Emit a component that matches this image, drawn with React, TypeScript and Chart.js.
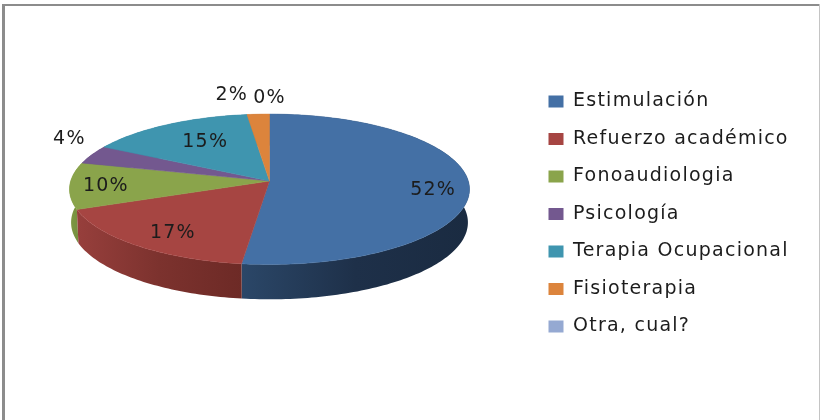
import React, { useEffect, useRef } from "react";
import { Chart, registerables } from "chart.js";

Chart.register(...registerables);

const categories = ["Estimulación", "Refuerzo académico", "Fonoaudiologia", "Psicología", "Terapia Ocupacional", "Fisioterapia", "Otra, cual?"];
const shares = [52, 17, 10, 4, 15, 2, 0];
const topColors = ["#4470a5", "#a64542", "#8aa44b", "#73588f", "#3f95af", "#dc843c", "#95a9d2"];
const sideLeft = ["#2b4768", "#973f3c", "#7f9945", "#6b5286", "#35809a", "#c0722f", "#7f90b5"];
const sideMid = ["#1e3049", "#7c322e", "#789140", "#5c4674", "#2e7088", "#ae662b", "#7283a4"];
const sideRight = ["#1a2b41", "#6d2a26", "#748c3e", "#55416c", "#2a6a80", "#a5612a", "#6c7c9c"];

// [radial factor, nudge x, nudge y]
const labelPlacement = [
  [0.82, 0, 5],
  [0.82, 11, 0],
  [0.82, 0, 1],
  [1.15, 3, -12],
  [0.82, 21, 8],
  [1.15, -25, -10],
  [1.15, 0, -7.5],
];

const FONT = "'DejaVu Sans', sans-serif";
const FONT_SIZE = 19;
const SPACING = "1.25px";
const TILT = 0.3737;
const PERSPECTIVE = 0.11;
const BASE_TILT = 0.382;
const BASE_SCALE = 0.992;
const DEPTH = 33;

function project(el: any, a: number, r: number, base: boolean) {
  const u = Math.cos(a) * r;
  const v = Math.sin(a) * r;
  const w = 1 - PERSPECTIVE * v;
  const R = el.outerRadius;
  return {
    x: el.x + (R * (base ? BASE_SCALE : 1) * u) / w,
    y: el.y + (base ? DEPTH : 0) + (R * (base ? BASE_TILT : TILT) * v) / w,
  };
}

function edge(el: any, from: number, to: number, base: boolean) {
  const n = Math.max(2, Math.ceil(Math.abs(to - from) / 0.02));
  const pts = [];
  for (let i = 0; i <= n; i++) pts.push(project(el, from + ((to - from) * i) / n, 1, base));
  return pts;
}

const pie3d = {
  id: "pie3d",
  afterLayout(chart: any) {
    const lg = chart.legend;
    lg.left = 548.5 - lg.options.labels.padding;
    lg.right = 820;
    lg.top = 73.5;
    lg.bottom = 420;
  },
  beforeDraw(chart: any) {
    chart.ctx.letterSpacing = SPACING;
  },
  beforeDatasetDraw(chart: any) {
    const ctx = chart.ctx;
    const arcs = chart.getDatasetMeta(0).data;
    const order = arcs
      .map((_: any, i: number) => i)
      .sort((a: number, b: number) => {
        const mid = (el: any) => Math.sin((el.startAngle + el.endAngle) / 2);
        return mid(arcs[a]) - mid(arcs[b]);
      });
    ctx.save();
    order.forEach((i: number) => {
      const el = arcs[i];
      if (el.endAngle - el.startAngle < 1e-4) return;
      const topPts = edge(el, el.startAngle, el.endAngle, false);
      const basePts = edge(el, el.endAngle, el.startAngle, true);
      const xs = topPts.concat(basePts).map((p: any) => p.x);
      const g = ctx.createLinearGradient(Math.min(...xs), 0, Math.max(...xs), 0);
      g.addColorStop(0, sideLeft[i]);
      g.addColorStop(0.5, sideMid[i]);
      g.addColorStop(1, sideRight[i]);
      ctx.fillStyle = g;
      ctx.beginPath();
      topPts.concat(basePts).forEach((p: any, j: number) => (j ? ctx.lineTo(p.x, p.y) : ctx.moveTo(p.x, p.y)));
      ctx.closePath();
      ctx.fill();
    });
    arcs.forEach((el: any, i: number) => {
      if (el.endAngle - el.startAngle < 1e-4) return;
      ctx.fillStyle = topColors[i];
      ctx.strokeStyle = topColors[i];
      ctx.lineWidth = 0.5;
      ctx.beginPath();
      ctx.moveTo(el.x, el.y);
      edge(el, el.startAngle, el.endAngle, false).forEach((p: any) => ctx.lineTo(p.x, p.y));
      ctx.closePath();
      ctx.fill();
      ctx.stroke();
    });
    ctx.fillStyle = "#1c1c1c";
    ctx.font = `${FONT_SIZE}px ${FONT}`;
    ctx.textAlign = "center";
    ctx.textBaseline = "middle";
    arcs.forEach((el: any, i: number) => {
      const [r, dx, dy] = labelPlacement[i];
      const p = project(el, (el.startAngle + el.endAngle) / 2, r, false);
      ctx.fillText(`${shares[i]}%`, p.x + dx, p.y + dy);
    });
    ctx.restore();
    return false;
  },
};

export default function App() {
  const ref = useRef<HTMLCanvasElement>(null);
  useEffect(() => {
    const chart = new Chart(ref.current!, {
      type: "pie",
      data: {
        labels: categories,
        datasets: [{ data: shares, backgroundColor: topColors, borderWidth: 0, radius: 198.8 }],
      },
      options: {
        responsive: false,
        animation: false,
        layout: { padding: { left: 0, right: 281, top: 0, bottom: 58 } },
        plugins: {
          tooltip: { enabled: false },
          legend: {
            position: "chartArea",
            align: "start",
            labels: {
              boxWidth: 15,
              boxHeight: 12,
              padding: 18.5,
              color: "#1c1c1c",
              font: { family: FONT, size: FONT_SIZE },
            },
          },
        },
      },
      plugins: [pie3d],
    } as any);
    return () => chart.destroy();
  }, []);
  return (
    <div style={{ position: "fixed", left: 0, top: 0, width: 820, height: 420, background: "#fff", overflow: "hidden" }}>
      <canvas ref={ref} width={820} height={420} style={{ display: "block", filter: "blur(0.5px)" }} />
      <div style={{ position: "absolute", left: 2, top: 4, width: 3, bottom: 0, background: "#8c8c8c" }} />
      <div style={{ position: "absolute", left: 2, top: 4, right: 1, height: 2, background: "#8c8c8c" }} />
      <div style={{ position: "absolute", right: 0, top: 4, width: 1, bottom: 0, background: "#c4c4c4" }} />
    </div>
  );
}
